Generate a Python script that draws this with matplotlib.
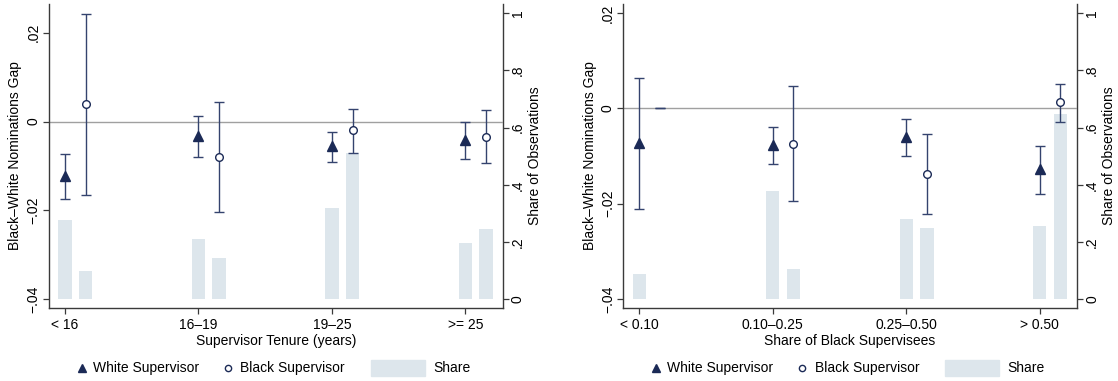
import numpy as np
import matplotlib
matplotlib.use("Agg")
import matplotlib.pyplot as plt
from matplotlib.patches import Rectangle

plt.rcParams['font.family'] = ['Liberation Sans', 'DejaVu Sans']

# ---------------- data ----------------
tenure_labels = ["< 16", "16\u201319", "19\u201325", ">= 25"]
tenure_white_est = [-0.0122, -0.0033, -0.0056, -0.0041]
tenure_white_lo = [-0.0174, -0.0079, -0.0091, -0.0085]
tenure_white_hi = [-0.0072, 0.0013, -0.0024, 0.0000]
tenure_black_est = [0.0039, -0.0079, -0.0020, -0.0034]
tenure_black_lo = [-0.0166, -0.0203, -0.0070, -0.0094]
tenure_black_hi = [0.0243, 0.0045, 0.0029, 0.0026]
tenure_white_share = [0.277, 0.210, 0.320, 0.197]
tenure_black_share = [0.100, 0.145, 0.510, 0.246]

sbs_labels = ["< 0.10", "0.10\u20130.25", "0.25\u20130.50", "> 0.50"]
sbs_white_est = [-0.0073, -0.0076, -0.0060, -0.0128]
sbs_white_lo = [-0.0211, -0.0117, -0.0100, -0.0180]
sbs_white_hi = [0.0064, -0.0039, -0.0022, -0.0079]
sbs_black_est = [np.nan, -0.0074, -0.0138, 0.0013]
sbs_black_lo = [0.0, -0.0195, -0.0222, -0.0028]
sbs_black_hi = [0.0, 0.0047, -0.0053, 0.0052]
sbs_white_share = [0.088, 0.379, 0.281, 0.256]
sbs_black_share = [0.0, 0.105, 0.249, 0.649]

left_yticks = [-0.04, -0.02, 0.0, 0.02]
left_ytick_labels = ["\u2212.04", "\u2212.02", "0", ".02"]
right_yticks = [0, 0.2, 0.4, 0.6, 0.8, 1.0]
right_ytick_labels = ["0", ".2", ".4", ".6", ".8", "1"]

# ---------------- style ----------------
W, H = 1118, 381
NAVY = '#1b2a56'
CI_COL = '#34436e'
BAR_COL = '#dde6ec'
ZERO_COL = '#a0a0a0'
SPINE_COL = '#3a3a3a'
FS = 10
OFF = 0.155
BW = 0.10

fig = plt.figure(figsize=(W / 100, H / 100), dpi=100)


def fx(px):
    return px / W


def fy(py):
    return 1 - py / H


def panel(left_px, labels, w_est, w_lo, w_hi, b_est, b_lo, b_hi,
          w_share, b_share, ylim, xlabel):
    ax = fig.add_axes([fx(left_px), fy(308), 453.5 / W, 304 / H])
    ax2 = ax.twinx()
    ax.set_zorder(ax2.get_zorder() + 1)
    ax.patch.set_visible(False)

    x = np.arange(1, len(labels) + 1)
    xb = x + OFF

    # share bars on secondary axis
    ax2.bar(x, w_share, width=BW, color=BAR_COL, zorder=1)
    ax2.bar(xb, b_share, width=BW, color=BAR_COL, zorder=1)

    ax.axhline(0, color=ZERO_COL, lw=1.0, zorder=1)

    # confidence intervals
    for xx, lo, hi in ((x, w_lo, w_hi), (xb, b_lo, b_hi)):
        ax.vlines(xx, lo, hi, color=CI_COL, lw=1.0, zorder=2)
        ax.plot(xx, lo, ls='none', marker='_', ms=6.5, mew=1.0, color=CI_COL, zorder=2)
        ax.plot(xx, hi, ls='none', marker='_', ms=6.5, mew=1.0, color=CI_COL, zorder=2)

    ax.plot(x, w_est, ls='none', marker='^', ms=7, color=NAVY, mec=NAVY, zorder=3)
    ax.plot(xb, b_est, ls='none', marker='o', ms=5.5, mfc='white', mec=NAVY,
            mew=1.0, zorder=3)

    ax.set_xlim(0.88, 4.278)
    ax.set_ylim(*ylim)
    ax2.set_ylim(-0.0304, 1.0325)

    ax.set_xticks(x)
    ax.set_xticklabels(labels, fontsize=FS)
    ax.set_yticks(left_yticks)
    ax.set_yticklabels(left_ytick_labels, fontsize=FS, rotation=90, va='center')
    ax2.set_yticks(right_yticks)
    ax2.set_yticklabels(right_ytick_labels, fontsize=FS, rotation=90, va='center')

    for a in (ax, ax2):
        a.spines['top'].set_visible(False)
        for s in a.spines.values():
            s.set_color(SPINE_COL)
            s.set_linewidth(1.0)
        a.tick_params(length=4, width=0.9, color=SPINE_COL, pad=2, labelcolor='black')
    ax.tick_params(axis='x', pad=3)
    ax.spines['right'].set_visible(False)
    ax2.spines['left'].set_visible(False)
    ax2.spines['bottom'].set_visible(False)

    ax.set_ylabel("Black\u2013White Nominations Gap", fontsize=FS, labelpad=3)
    ax2.set_ylabel("Share of Observations", fontsize=FS, labelpad=2)
    ax.set_xlabel(xlabel, fontsize=FS, labelpad=2)

    # legend (manual)
    ly = 368
    fig.lines.append(plt.Line2D([fx(left_px + 32.7)], [fy(ly)], transform=fig.transFigure,
                                marker='^', ms=6, color=NAVY, ls='none'))
    fig.text(fx(left_px + 44), fy(ly), "White Supervisor", fontsize=FS, va='center', ha='left')
    fig.lines.append(plt.Line2D([fx(left_px + 179)], [fy(ly)], transform=fig.transFigure,
                                marker='o', ms=4.5, mfc='white', mec=NAVY, mew=1.0, ls='none'))
    fig.text(fx(left_px + 191.5), fy(ly), "Black Supervisor", fontsize=FS, va='center', ha='left')
    fig.patches.append(Rectangle((fx(left_px + 322), fy(376)), 54 / W, 16 / H,
                                 transform=fig.transFigure, color=BAR_COL))
    fig.text(fx(left_px + 384), fy(ly), "Share", fontsize=FS, va='center', ha='left')
    return ax


panel(49, tenure_labels, tenure_white_est, tenure_white_lo, tenure_white_hi,
      tenure_black_est, tenure_black_lo, tenure_black_hi,
      tenure_white_share, tenure_black_share, (-0.04196, 0.02646),
      "Supervisor Tenure (years)")
panel(623.3, sbs_labels, sbs_white_est, sbs_white_lo, sbs_white_hi,
      sbs_black_est, sbs_black_lo, sbs_black_hi,
      sbs_white_share, sbs_black_share, (-0.0419, 0.0219),
      "Share of Black Supervisees")

fig.savefig("out.png", dpi=100)
